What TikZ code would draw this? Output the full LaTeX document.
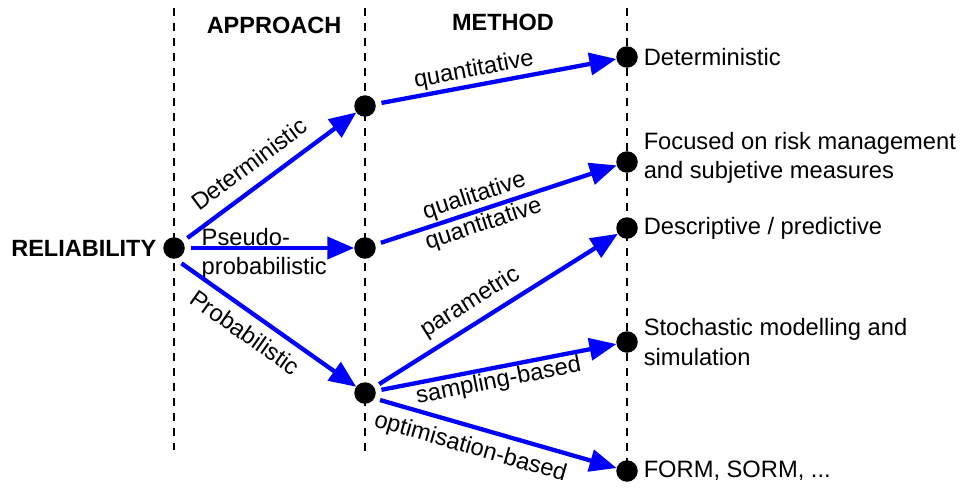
\documentclass[tikz,border=0pt]{standalone}
\usepackage{fontspec}
\setmainfont{Liberation Sans}
\usetikzlibrary{arrows.meta}
\begin{document}
\begin{tikzpicture}[x=1pt,y=-1pt,
  every node/.style={font=\fontsize{23.7}{29.5}\selectfont,text=black},
  dot/.style={circle,fill=black,inner sep=0pt,outer sep=0pt,minimum size=21.5pt},
  guide/.style={black,line width=2pt,dash pattern=on 8pt off 7pt},
  arr/.style={blue,line width=4.3pt,-{Triangle[length=27pt,width=22pt]},shorten <=6pt},
  lbl/.style={inner sep=0pt,outer sep=0pt,sloped,text=black},
  txt/.style={inner sep=0pt,outer sep=0pt,align=left,text=black},
  head/.style={inner sep=0pt,outer sep=0pt,font=\fontsize{23.5}{29.5}\selectfont\bfseries}]
\useasboundingbox (0,0) rectangle (961,488);

% dashed column separators
\coordinate (g1t) at (174,8);  \coordinate (g1b) at (174,450);
\coordinate (g2t) at (365,8);  \coordinate (g2b) at (365,455);
\coordinate (g3t) at (627,8);  \coordinate (g3b) at (627,471);
\draw[guide] (g1t) -- (g1b);
\draw[guide] (g2t) -- (g2b);
\draw[guide] (g3t) -- (g3b);

% column headings
\node[head,anchor=base] (h1) at (274,33) {APPROACH};
\node[head,anchor=base] (h2) at (503,30) {METHOD};

% junction dots
\node[dot] (R)  at (174,248) {};
\node[dot] (A1) at (365,106) {};
\node[dot] (A2) at (365,248) {};
\node[dot] (A3) at (365,393) {};
\node[dot] (M1) at (627,57)  {};
\node[dot] (M2) at (627,162) {};
\node[dot] (M3) at (627,228) {};
\node[dot] (M4) at (627,342) {};
\node[dot] (M5) at (627,471) {};

\node[head,anchor=east,xshift=-7pt] (rel) at (R.west) {RELIABILITY};

% approaches
\draw[arr] (R) -- (A1) node[lbl,pos=0.46,above=14pt] {Deterministic};
\draw[arr] (R) -- (A2) node[txt,pos=0.1,anchor=west,yshift=-6pt] {Pseudo-\\probabilistic};
\draw[arr,shorten <=8pt] (R.-85) -- (A3) node[lbl,pos=0.45,below=11pt] {Probabilistic};

% methods
\draw[arr] (A1) -- (M1) node[lbl,pos=0.42,above=4pt] {quantitative};
\draw[arr] (A2) -- (M2) node[lbl,pos=0.43,align=center] {qualitative\\quantitative};
\draw[arr] (A3) -- (M3) node[lbl,pos=0.44,above=9pt] {parametric};
\draw[arr] (A3) -- (M4) node[lbl,pos=0.50,below=3pt] {sampling-based};
\draw[arr] (A3.-30) -- (M5) node[lbl,pos=0.42,below=10pt] {optimisation-based};

% outcomes
\node[txt,anchor=west,xshift=6pt] (t1) at (M1.east) {Deterministic};
\node[txt,anchor=west,xshift=6pt,yshift=4pt] (t2) at (M2.east) {Focused on risk management\\and subjetive measures};
\node[txt,anchor=west,xshift=6pt] (t3) at (M3.east) {Descriptive / predictive};
\node[txt,anchor=west,xshift=6pt] (t4) at (M4.east) {Stochastic modelling and\\simulation};
\node[txt,anchor=west,xshift=6pt] (t5) at (M5.east) {FORM, SORM, ...};
\end{tikzpicture}
\end{document}
